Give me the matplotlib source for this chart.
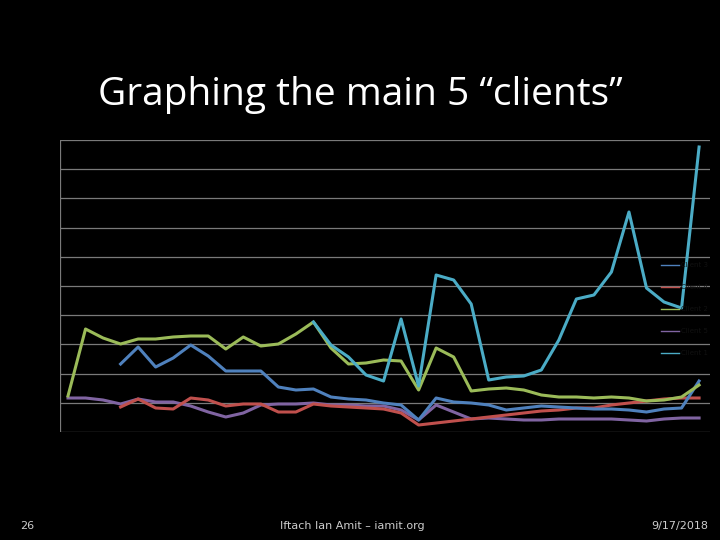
import matplotlib
matplotlib.use("Agg")
import matplotlib.pyplot as plt
import numpy as np

x = list(range(37))
green = [396,329,338,344,339,339,337,336,336,349,337,346,344,334,322,348,364,363,360,361,390,348,357,391,389,388,390,395,397,397,398,397,398,401,400,397,385]
teal_start = 14
teal = [322,345,357,375,381,319,386,275,280,304,380,377,376,370,340,299,295,272,212,288,302,308,147]
blue_start = 3
blue = [364,347,367,358,345,356,371,371,371,387,390,389,397,399,400,403,405,420,398,402,403,405,410,408,406,407,408,409,409,410,412,409,408,381]
red_start = 3
red = [407,399,408,409,398,400,406,404,404,412,412,404,406,407,408,409,413,425,423,421,419,417,415,413,411,410,408,408,405,403,401,399,398,398]
purple = [398,398,400,404,399,402,402,406,412,417,413,405,404,404,403,405,405,406,406,410,420,405,412,419,418,419,420,420,419,419,419,419,420,421,419,418,418]

def v(lst):  # pixel-read values -> chart units (0..10)
    return [(432 - p) / 29.2 for p in lst]

fig = plt.figure(figsize=(7.2, 5.4), dpi=100, facecolor="black")
ax = fig.add_axes([60/720, 0.2, 650/720, 292/540], facecolor="black")
ax.set_ylim(0, 10)
ax.set_xlim(-8/17.53, 642/17.53)
for yy in range(1, 11):
    ax.axhline(yy, color="#7a7a7a", lw=0.9, zorder=0)
for s in ax.spines.values():
    s.set_visible(False)
ax.plot([-8/17.53]*2, [0, 10], color="#7a7a7a", lw=0.9)
ax.plot([-8/17.53, 642/17.53], [0, 0], color="#7a7a7a", lw=0.9)
ax.set_xticks([]); ax.set_yticks([])

lw = 2.2
hp, = ax.plot(x, v(purple), color="#8064a2", lw=lw, label="Client 5")
hr, = ax.plot(x[red_start:], v(red), color="#c0504d", lw=lw, label="Client 4")
hb, = ax.plot(x[blue_start:], v(blue), color="#4f81bd", lw=lw, label="Client 3")
hg, = ax.plot(x, v(green), color="#9bbb59", lw=lw, label="Client 2")
ht, = ax.plot(x[teal_start:], v(teal), color="#4bacc6", lw=lw, label="Client 1")

leg = ax.legend([hb, hr, hg, hp, ht], ["Client 3", "Client 4", "Client 2", "Client 5", "Client 1"],
                loc="center left", bbox_to_anchor=(595/650, 0.42), frameon=False,
                fontsize=5, handlelength=2.6, labelspacing=2.3, handletextpad=0.3)
for t in leg.get_texts():
    t.set_color("#111111")
for l in leg.get_lines():
    l.set_linewidth(1)

fig.text(360/720, 1-95/540, "Graphing the main 5 \u201cclients\u201d", color="white",
         fontsize=28, ha="center", va="center", family="Open Sans")
fig.text(27/720, 1-526/540, "26", color="#cccccc", fontsize=8, ha="center", va="center")
fig.text(352/720, 1-526/540, "Iftach Ian Amit \u2013 iamit.org", color="#cccccc", fontsize=8, ha="center", va="center")
fig.text(680/720, 1-526/540, "9/17/2018", color="#cccccc", fontsize=8, ha="center", va="center")

fig.savefig("out.png", dpi=100, facecolor="black")
